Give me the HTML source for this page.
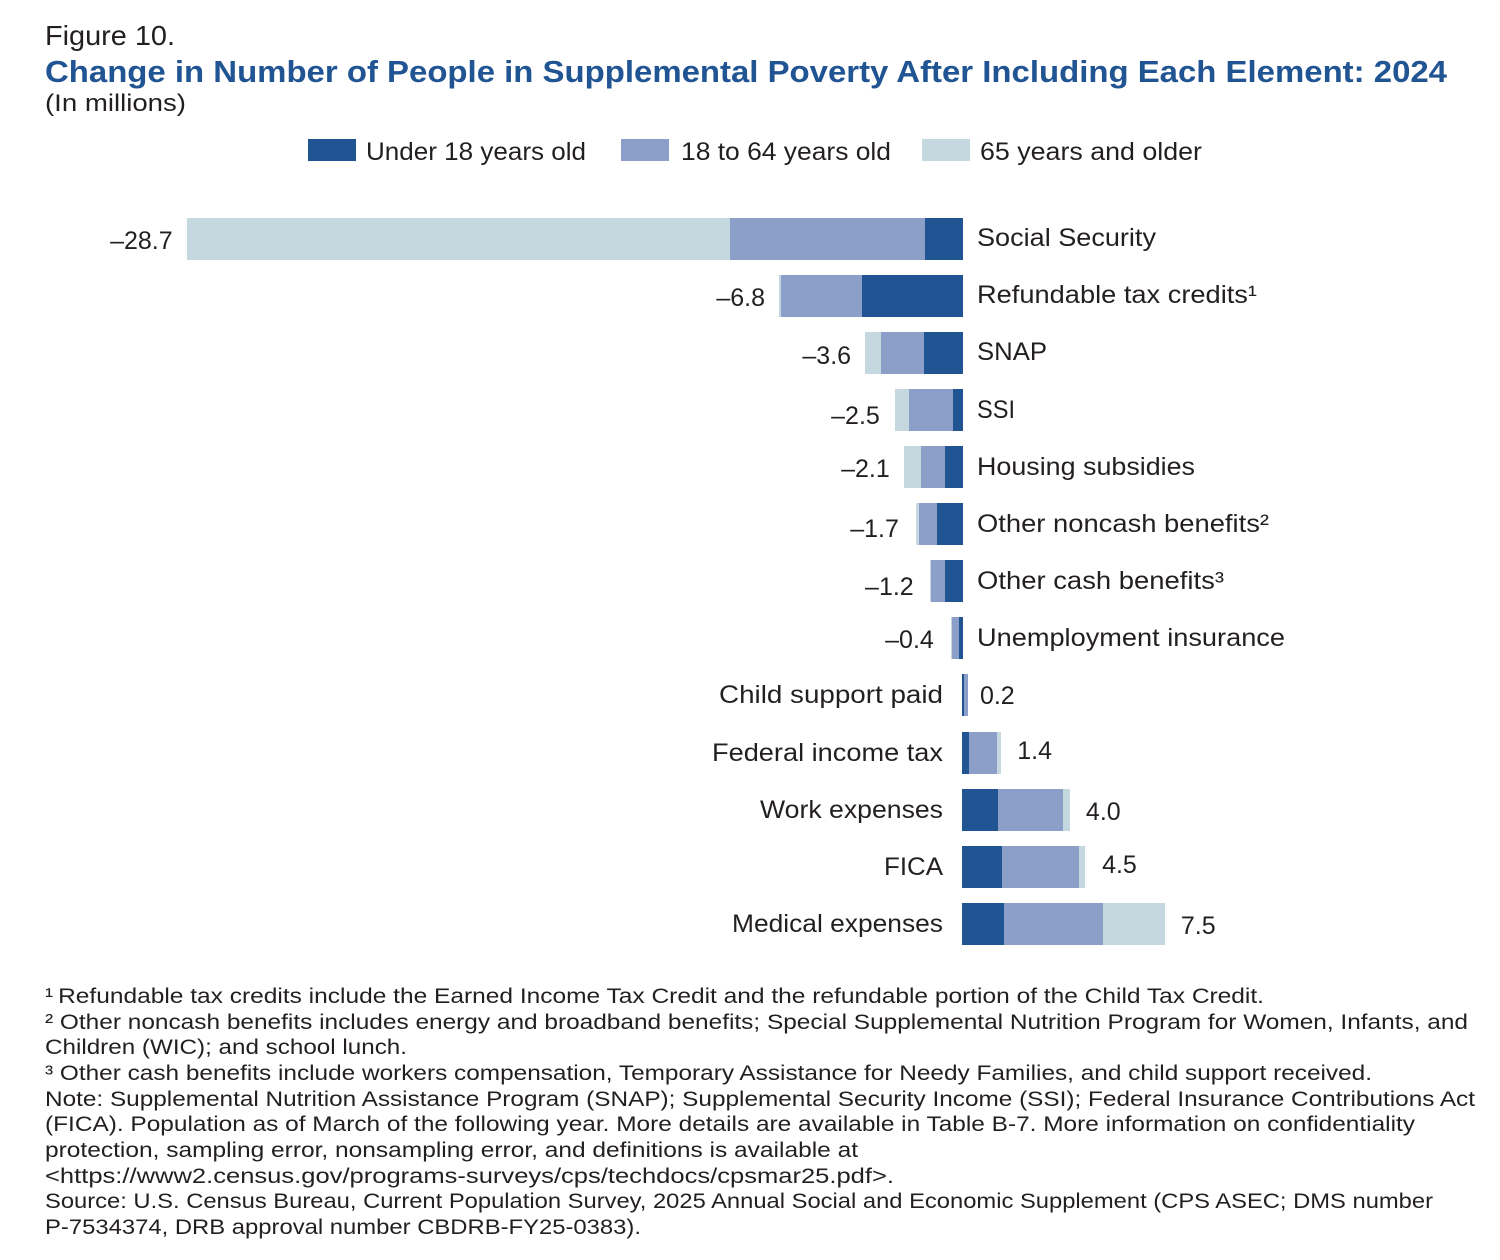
<!DOCTYPE html>
<html lang="en">
<head>
<meta charset="utf-8">
<title>Change in Number of People in Supplemental Poverty After Including Each Element: 2024</title>
<style>
html,body{margin:0;padding:0;background:#fff;width:1500px;height:1260px;overflow:hidden}
svg{display:block}
text{font-family:"Liberation Sans",sans-serif;fill:#231f20}
.fn{font-size:21px}
.lab{font-size:25px}
</style>
</head>
<body>
<svg id="chart" xmlns="http://www.w3.org/2000/svg" width="1500" height="1260" viewBox="0 0 1500 1260">
  <rect x="0" y="0" width="1500" height="1260" fill="#ffffff"/>
  <text x="45" y="45" font-size="28" textLength="130" lengthAdjust="spacingAndGlyphs">Figure 10.</text>
  <text x="45" y="82" font-size="31" font-weight="700" style="fill:#205493" textLength="1402" lengthAdjust="spacingAndGlyphs">Change in Number of People in Supplemental Poverty After Including Each Element: 2024</text>
  <text x="45" y="111" font-size="24.5" textLength="141" lengthAdjust="spacingAndGlyphs">(In millions)</text>

  <g>
    <rect x="308" y="139" width="48" height="22" fill="#205493"/>
    <text class="lab" x="366" y="160" textLength="220" lengthAdjust="spacingAndGlyphs">Under 18 years old</text>
    <rect x="621" y="139" width="48" height="22" fill="#8c9fc8"/>
    <text class="lab" x="681" y="160" textLength="210" lengthAdjust="spacingAndGlyphs">18 to 64 years old</text>
    <rect x="922" y="139" width="48" height="22" fill="#c5d8e0"/>
    <text class="lab" x="980" y="160" textLength="222" lengthAdjust="spacingAndGlyphs">65 years and older</text>
  </g>

  <g id="bars"></g>
  <g id="labels"></g>

  <g>
    <text class="fn" x="45" y="1003" textLength="1219" lengthAdjust="spacingAndGlyphs">¹&#8201;Refundable tax credits include the Earned Income Tax Credit and the refundable portion of the Child Tax Credit.</text>
    <text class="fn" x="45" y="1029" textLength="1423" lengthAdjust="spacingAndGlyphs">² Other noncash benefits includes energy and broadband benefits; Special Supplemental Nutrition Program for Women, Infants, and</text>
    <text class="fn" x="45" y="1054" textLength="362" lengthAdjust="spacingAndGlyphs">Children (WIC); and school lunch.</text>
    <text class="fn" x="45" y="1080" textLength="1327" lengthAdjust="spacingAndGlyphs">³ Other cash benefits include workers compensation, Temporary Assistance for Needy Families, and child support received.</text>
    <text class="fn" x="45" y="1106" textLength="1430" lengthAdjust="spacingAndGlyphs">Note: Supplemental Nutrition Assistance Program (SNAP); Supplemental Security Income (SSI); Federal Insurance Contributions Act</text>
    <text class="fn" x="45" y="1131" textLength="1370" lengthAdjust="spacingAndGlyphs">(FICA). Population as of March of the following year. More details are available in Table B-7. More information on confidentiality</text>
    <text class="fn" x="45" y="1157" textLength="813" lengthAdjust="spacingAndGlyphs">protection, sampling error, nonsampling error, and definitions is available at</text>
    <text class="fn" x="45" y="1183" textLength="849" lengthAdjust="spacingAndGlyphs">&lt;https://www2.census.gov/programs-surveys/cps/techdocs/cpsmar25.pdf&gt;.</text>
    <text class="fn" x="45" y="1208" textLength="1388" lengthAdjust="spacingAndGlyphs">Source: U.S. Census Bureau, Current Population Survey, 2025 Annual Social and Economic Supplement (CPS ASEC; DMS number</text>
    <text class="fn" x="45" y="1234" textLength="596" lengthAdjust="spacingAndGlyphs">P-7534374, DRB approval number CBDRB-FY25-0383).</text>
  </g>
</svg>
<script>
// Data (millions of people)
const categories = ["Social Security","Refundable tax credits¹","SNAP","SSI","Housing subsidies","Other noncash benefits²","Other cash benefits³","Unemployment insurance","Child support paid","Federal income tax","Work expenses","FICA","Medical expenses"];
const under18 = [-1.40,-3.73,-1.44,-0.37,-0.67,-0.96,-0.67,-0.15,0.07,0.26,1.33,1.48,1.55];
const adults18to64 = [-7.21,-3.00,-1.59,-1.63,-0.89,-0.67,-0.52,-0.26,0.15,1.04,2.40,2.85,3.66];
const seniors65plus = [-20.09,-0.07,-0.59,-0.52,-0.63,-0.11,-0.04,-0.04,0,0.15,0.26,0.22,2.29];
const printedTotals = [-28.7,-6.8,-3.6,-2.5,-2.1,-1.7,-1.2,-0.4,0.2,1.4,4.0,4.5,7.5];

// Layout
const seriesList = [under18, adults18to64, seniors65plus];
const seriesNames = ["under-18","18-to-64","65-and-older"];
const seriesColors = ["#205493","#8c9fc8","#c5d8e0"];
const catWidths = [179,280,70,38,218,292,247,308,224,231,183,59,211];
const nudgeX = [0,0,0,-1,0,-3,-2,-3,-4,0,0,1,0];
const nudgeY = [0,0,1,4,0,3,4,0,-1,-4,0,-4,0];
const SCALE = 27.05;
const BAR_H = 42;
const SVG_NS = "http://www.w3.org/2000/svg";

function xScale(v){ return (v < 0 ? 963 : 962) + v * SCALE; }
function yScale(i){ return Math.floor(218.3 + i * 57.08); }
function fmt(v){ return (v < 0 ? "–" : "") + Math.abs(v).toFixed(1); }

const barsG = document.getElementById("bars");
const labelsG = document.getElementById("labels");

categories.forEach(function(cat, i){
  let cum = 0;
  const neg = printedTotals[i] < 0;
  seriesList.forEach(function(series, s){
    const v = series[i];
    if (v === 0) return;
    const x0 = Math.round(xScale(neg ? cum - 1e-9 : cum)), x1 = Math.round(xScale(cum + v));
    cum += v;
    const r = document.createElementNS(SVG_NS, "rect");
    r.setAttribute("x", Math.min(x0, x1));
    r.setAttribute("y", yScale(i));
    r.setAttribute("width", Math.abs(x1 - x0));
    r.setAttribute("height", BAR_H);
    r.setAttribute("fill", seriesColors[s]);
    r.setAttribute("shape-rendering", "crispEdges");
    
    
    barsG.appendChild(r);
  });

  const c = document.createElementNS(SVG_NS, "text");
  c.setAttribute("class", "lab");
  c.setAttribute("y", yScale(i) + (i < 3 ? 28 : 29));
  c.setAttribute("x", neg ? 977 : 943);
  c.setAttribute("text-anchor", neg ? "start" : "end");
  c.setAttribute("textLength", catWidths[i]);
  c.setAttribute("lengthAdjust", "spacingAndGlyphs");
  
  
  c.textContent = cat;
  labelsG.appendChild(c);

  const t = document.createElementNS(SVG_NS, "text");
  t.setAttribute("class", "lab");
  t.setAttribute("y", yScale(i) + 31 + nudgeY[i]);
  t.setAttribute("x", xScale(cum) + (neg ? -14 : 16) + nudgeX[i]);
  t.setAttribute("text-anchor", neg ? "end" : "start");
  
  
  t.textContent = fmt(printedTotals[i]);
  labelsG.appendChild(t);
});
</script>
</body>
</html>
